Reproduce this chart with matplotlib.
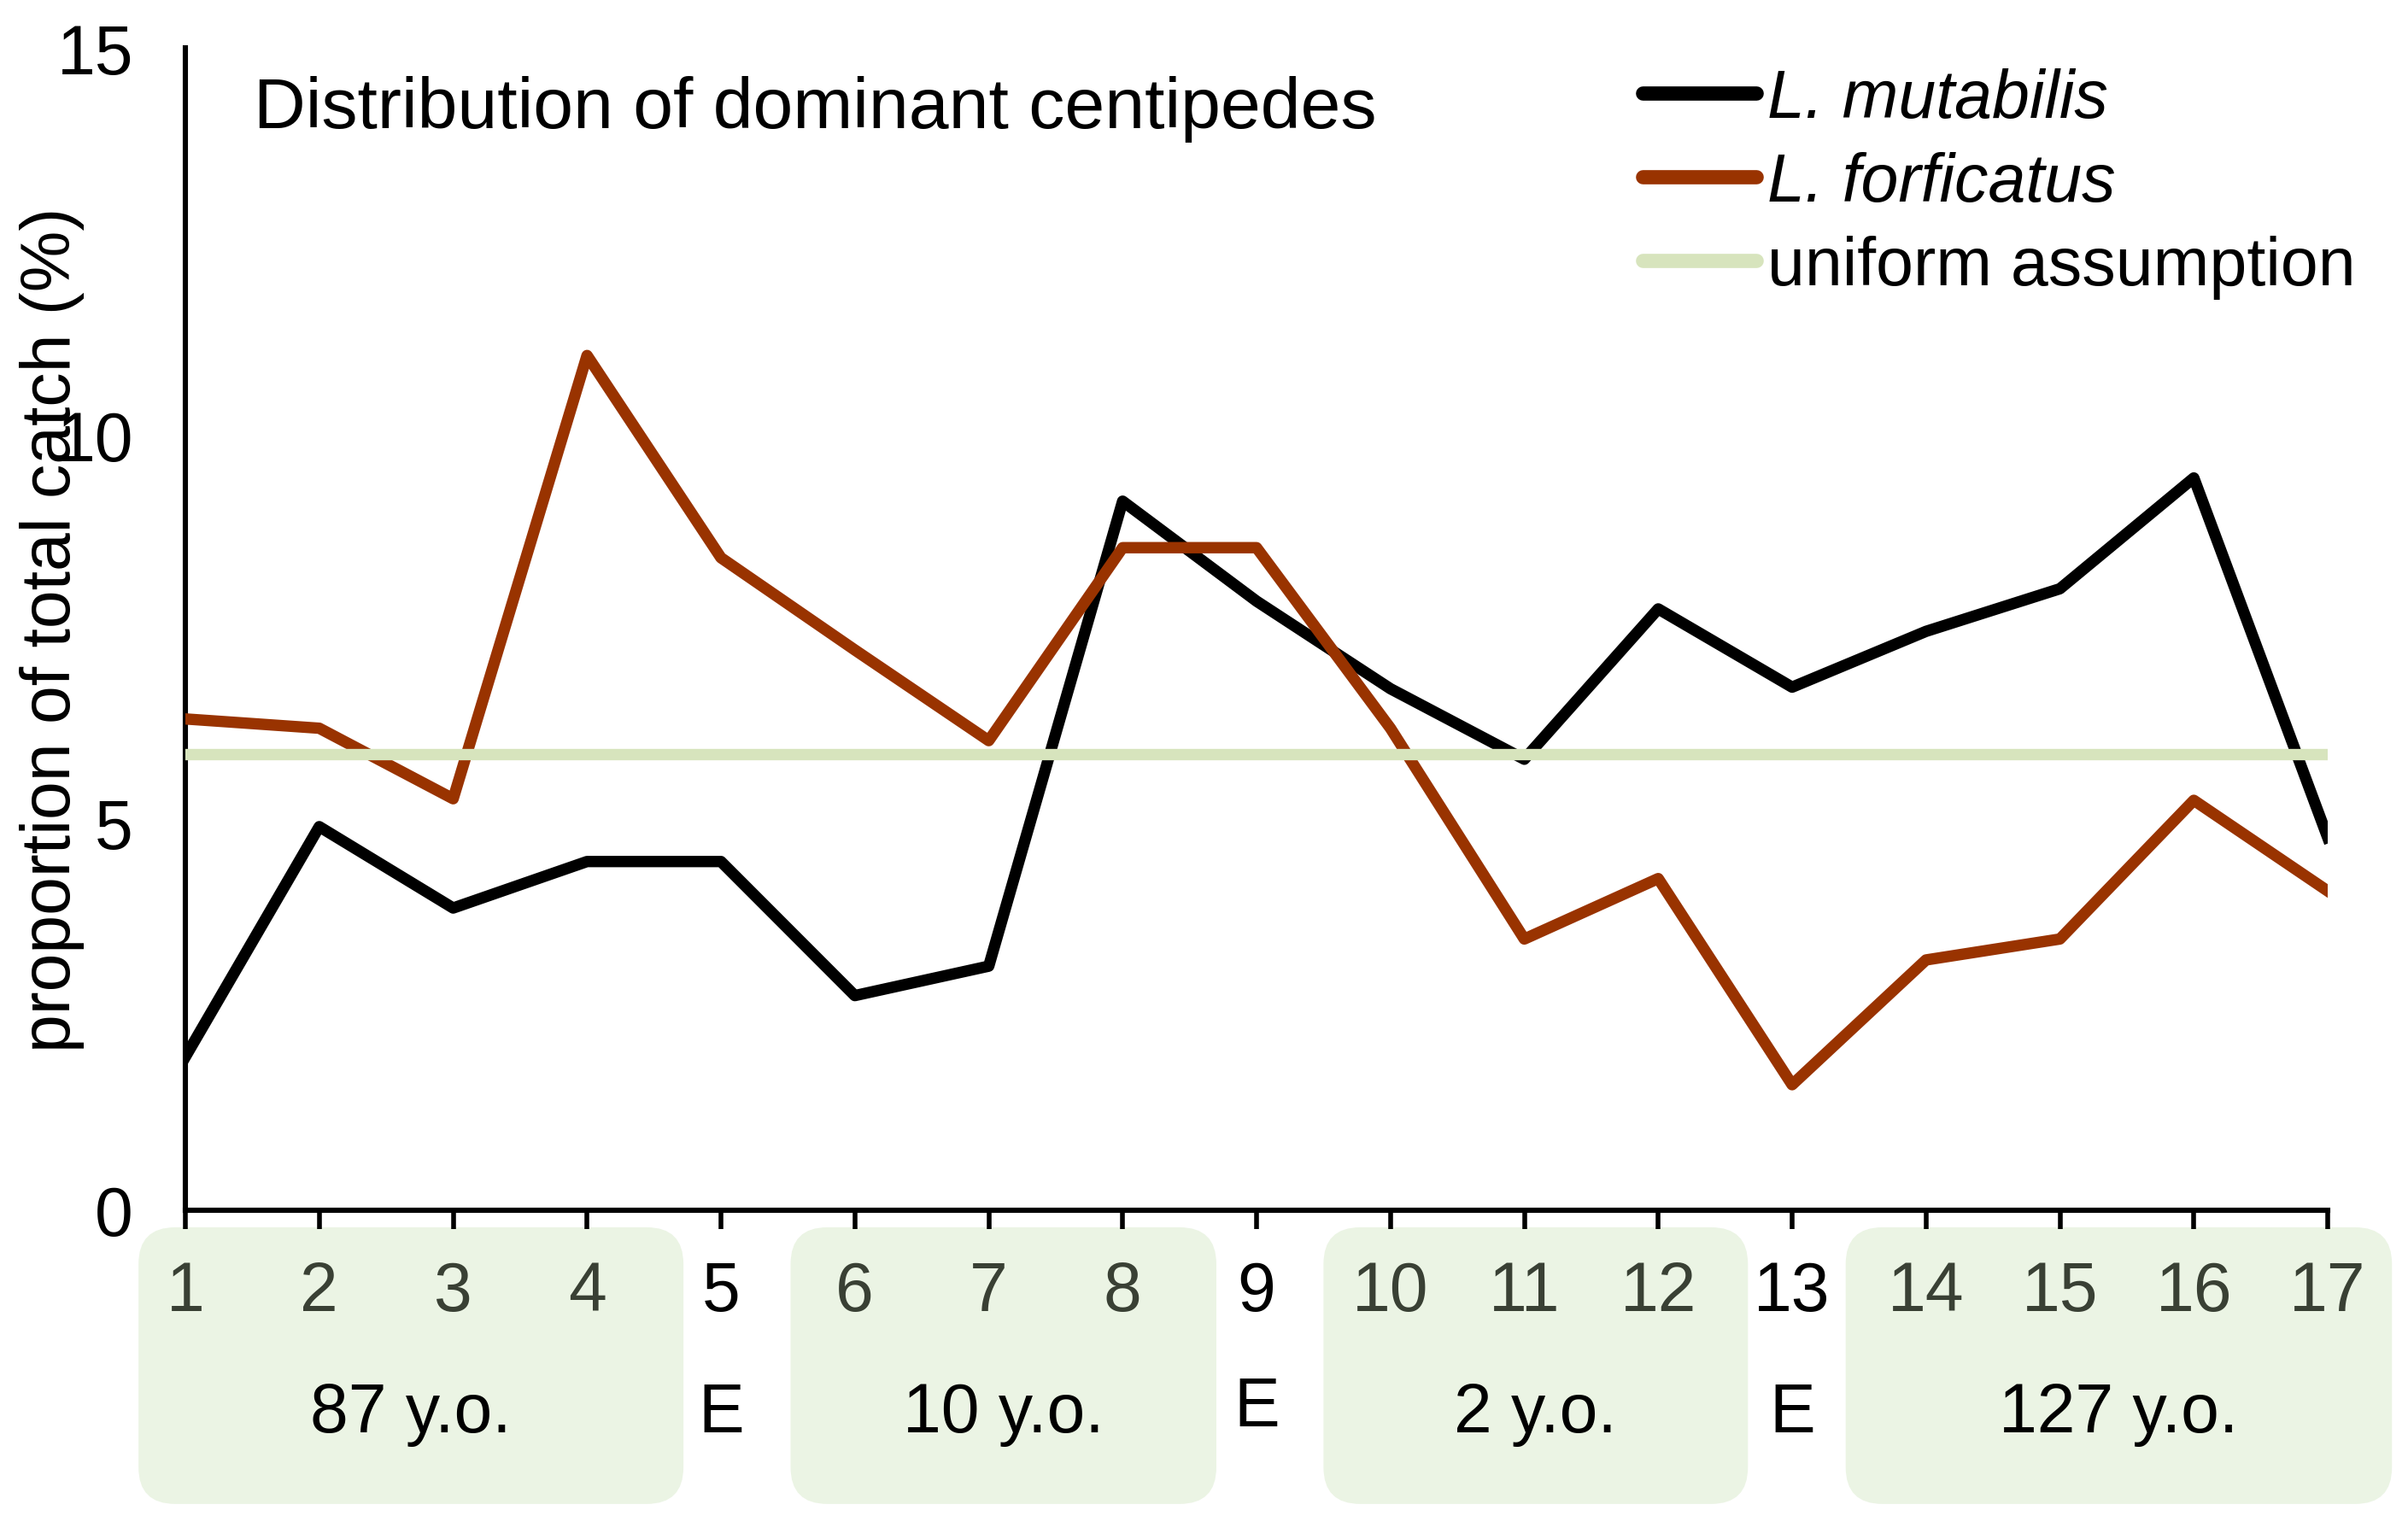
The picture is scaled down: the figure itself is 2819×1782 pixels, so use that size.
import matplotlib.pyplot as plt
from matplotlib.lines import Line2D
from matplotlib.patches import FancyBboxPatch

# data (% of total catch per site)
sites = list(range(1, 18))
mutabilis = [1.98, 4.95, 3.9, 4.5, 4.5, 2.77, 3.15, 9.15, 7.86, 6.73,
             5.82, 7.76, 6.75, 7.47, 8.02, 9.45, 4.81]
forficatus = [6.34, 6.22, 5.31, 11.03, 8.42, 7.23, 6.06, 8.55, 8.55, 6.22,
              3.5, 4.28, 1.62, 3.23, 3.5, 5.29, 4.12]
uniform = [5.88, 5.88, 5.88, 5.88, 5.88, 5.88, 5.88, 5.88, 5.88, 5.88,
           5.88, 5.88, 5.88, 5.88, 5.88, 5.88, 5.88]

# stand age groups below the axis
group_labels = ["87 y.o.", "10 y.o.", "2 y.o.", "127 y.o."]
group_sites = [[1, 2, 3, 4], [6, 7, 8], [10, 11, 12], [14, 15, 16, 17]]
edge_labels = ["E", "E", "E"]
edge_sites = [5, 9, 13]

# layout of the rounded boxes (x extents in site units)
box_x = [(0.65, 4.72), (5.52, 8.70), (9.50, 12.67), (13.40, 17.48)]
box_y = (-3.79, -0.22)

plt.rcParams['font.family'] = ['Liberation Sans', 'DejaVu Sans']

W, H, DPI = 2819, 1783, 200
fig = plt.figure(figsize=(W / DPI, H / DPI), dpi=DPI)
ax = fig.add_axes([217 / W, 1 - 1418 / H, (2725 - 217) / W, (1418 - 57) / H])

ax.plot(sites, mutabilis, color='black', lw=4.8, solid_joinstyle='round', zorder=3)
ax.plot(sites, forficatus, color='#993300', lw=4.8, solid_joinstyle='round', zorder=3)
ax.plot(sites, uniform, color='#d7e4bd', lw=4.8, zorder=4)

ax.set_xlim(1, 17)
ax.set_ylim(0, 15)
ax.set_yticks([0, 5, 10, 15])
ax.set_xticks(sites)
ax.set_xticklabels([str(s) for s in sites])

in_group = [s for g in group_sites for s in g]
for lab, s in zip(ax.get_xticklabels(), sites):
    lab.set_color('#394034' if s in in_group else 'black')

for sp in ['top', 'right']:
    ax.spines[sp].set_visible(False)
for sp in ['left', 'bottom']:
    ax.spines[sp].set_linewidth(2.2)

ax.tick_params(axis='x', direction='out', length=8, width=2.0, pad=13, labelsize=29)
ax.tick_params(axis='y', length=0, pad=22, labelsize=29)

ax.set_ylabel("proportion of total catch (%)", fontsize=29)
ax.yaxis.set_label_coords(-0.047, 0.5)

# rounded boxes, corner radius kept round in pixel space
px_x = ax.get_position().width * W / 16
px_y = ax.get_position().height * H / 15
aspect = px_x / px_y
r = 43 / px_x
for (x0, x1), lab, g in zip(box_x, group_labels, group_sites):
    box = FancyBboxPatch((x0, box_y[0]), x1 - x0, box_y[1] - box_y[0],
                         boxstyle=f"round,pad=0,rounding_size={r}",
                         mutation_aspect=aspect, facecolor='#ebf4e4',
                         edgecolor='none', clip_on=False, zorder=0)
    ax.add_patch(box)
    ax.text((x0 + x1) / 2, -2.855, lab, ha='center', va='baseline',
            fontsize=29, clip_on=False)

edge_y = [-2.855, -2.78, -2.855]
for s, lab, yy in zip(edge_sites, edge_labels, edge_y):
    ax.text(s, yy, lab, ha='center', va='baseline', fontsize=29, clip_on=False)

fig.text(297 / W, 1 - 150 / H, "Distribution of dominant centipedes",
         fontsize=30.3, ha='left', va='baseline')

handles = [Line2D([], [], color='black', lw=6, solid_capstyle='round'),
           Line2D([], [], color='#993300', lw=6, solid_capstyle='round'),
           Line2D([], [], color='#d7e4bd', lw=6, solid_capstyle='round')]
leg = ax.legend(handles, ["L. mutabilis", "L. forficatus", "uniform assumption"],
                loc='upper left', bbox_to_anchor=(1923 / W, 1 - 80 / H),
                bbox_transform=fig.transFigure, frameon=False, fontsize=28.4,
                handlelength=1.68, handletextpad=0.17, labelspacing=0.29,
                borderpad=0, borderaxespad=0)
leg.get_texts()[0].set_fontstyle('italic')
leg.get_texts()[1].set_fontstyle('italic')

fig.savefig("out.png", dpi=DPI)
